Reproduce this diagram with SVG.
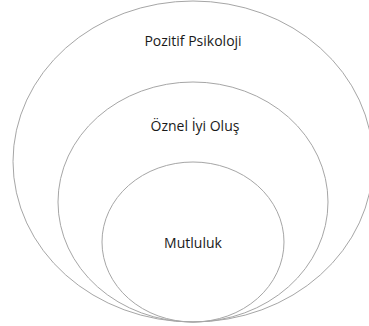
<svg xmlns="http://www.w3.org/2000/svg" width="369" height="326" viewBox="0 0 369 326">
<style>
.c{fill:none;stroke:#a6a6a6;stroke-width:1}
.t{font-family:"Open Sans","Liberation Sans",sans-serif;font-size:14px;fill:#1a1a1a;text-anchor:middle}
</style>
<rect width="369" height="326" fill="#fff"/>
<g id="pozitif-psikoloji">
<ellipse class="c" cx="193" cy="161.5" rx="180" ry="160.5"/>
<text class="t" x="193" y="46">Pozitif Psikoloji</text>
</g>
<g id="oznel-iyi-olus">
<ellipse class="c" cx="193" cy="202" rx="135" ry="120"/>
<text class="t" x="195" y="131">Öznel İyi Oluş</text>
</g>
<g id="mutluluk">
<ellipse class="c" cx="193" cy="242" rx="91" ry="80"/>
<text class="t" x="193" y="248">Mutluluk</text>
</g>
<g id="connectors"/>
</svg>
